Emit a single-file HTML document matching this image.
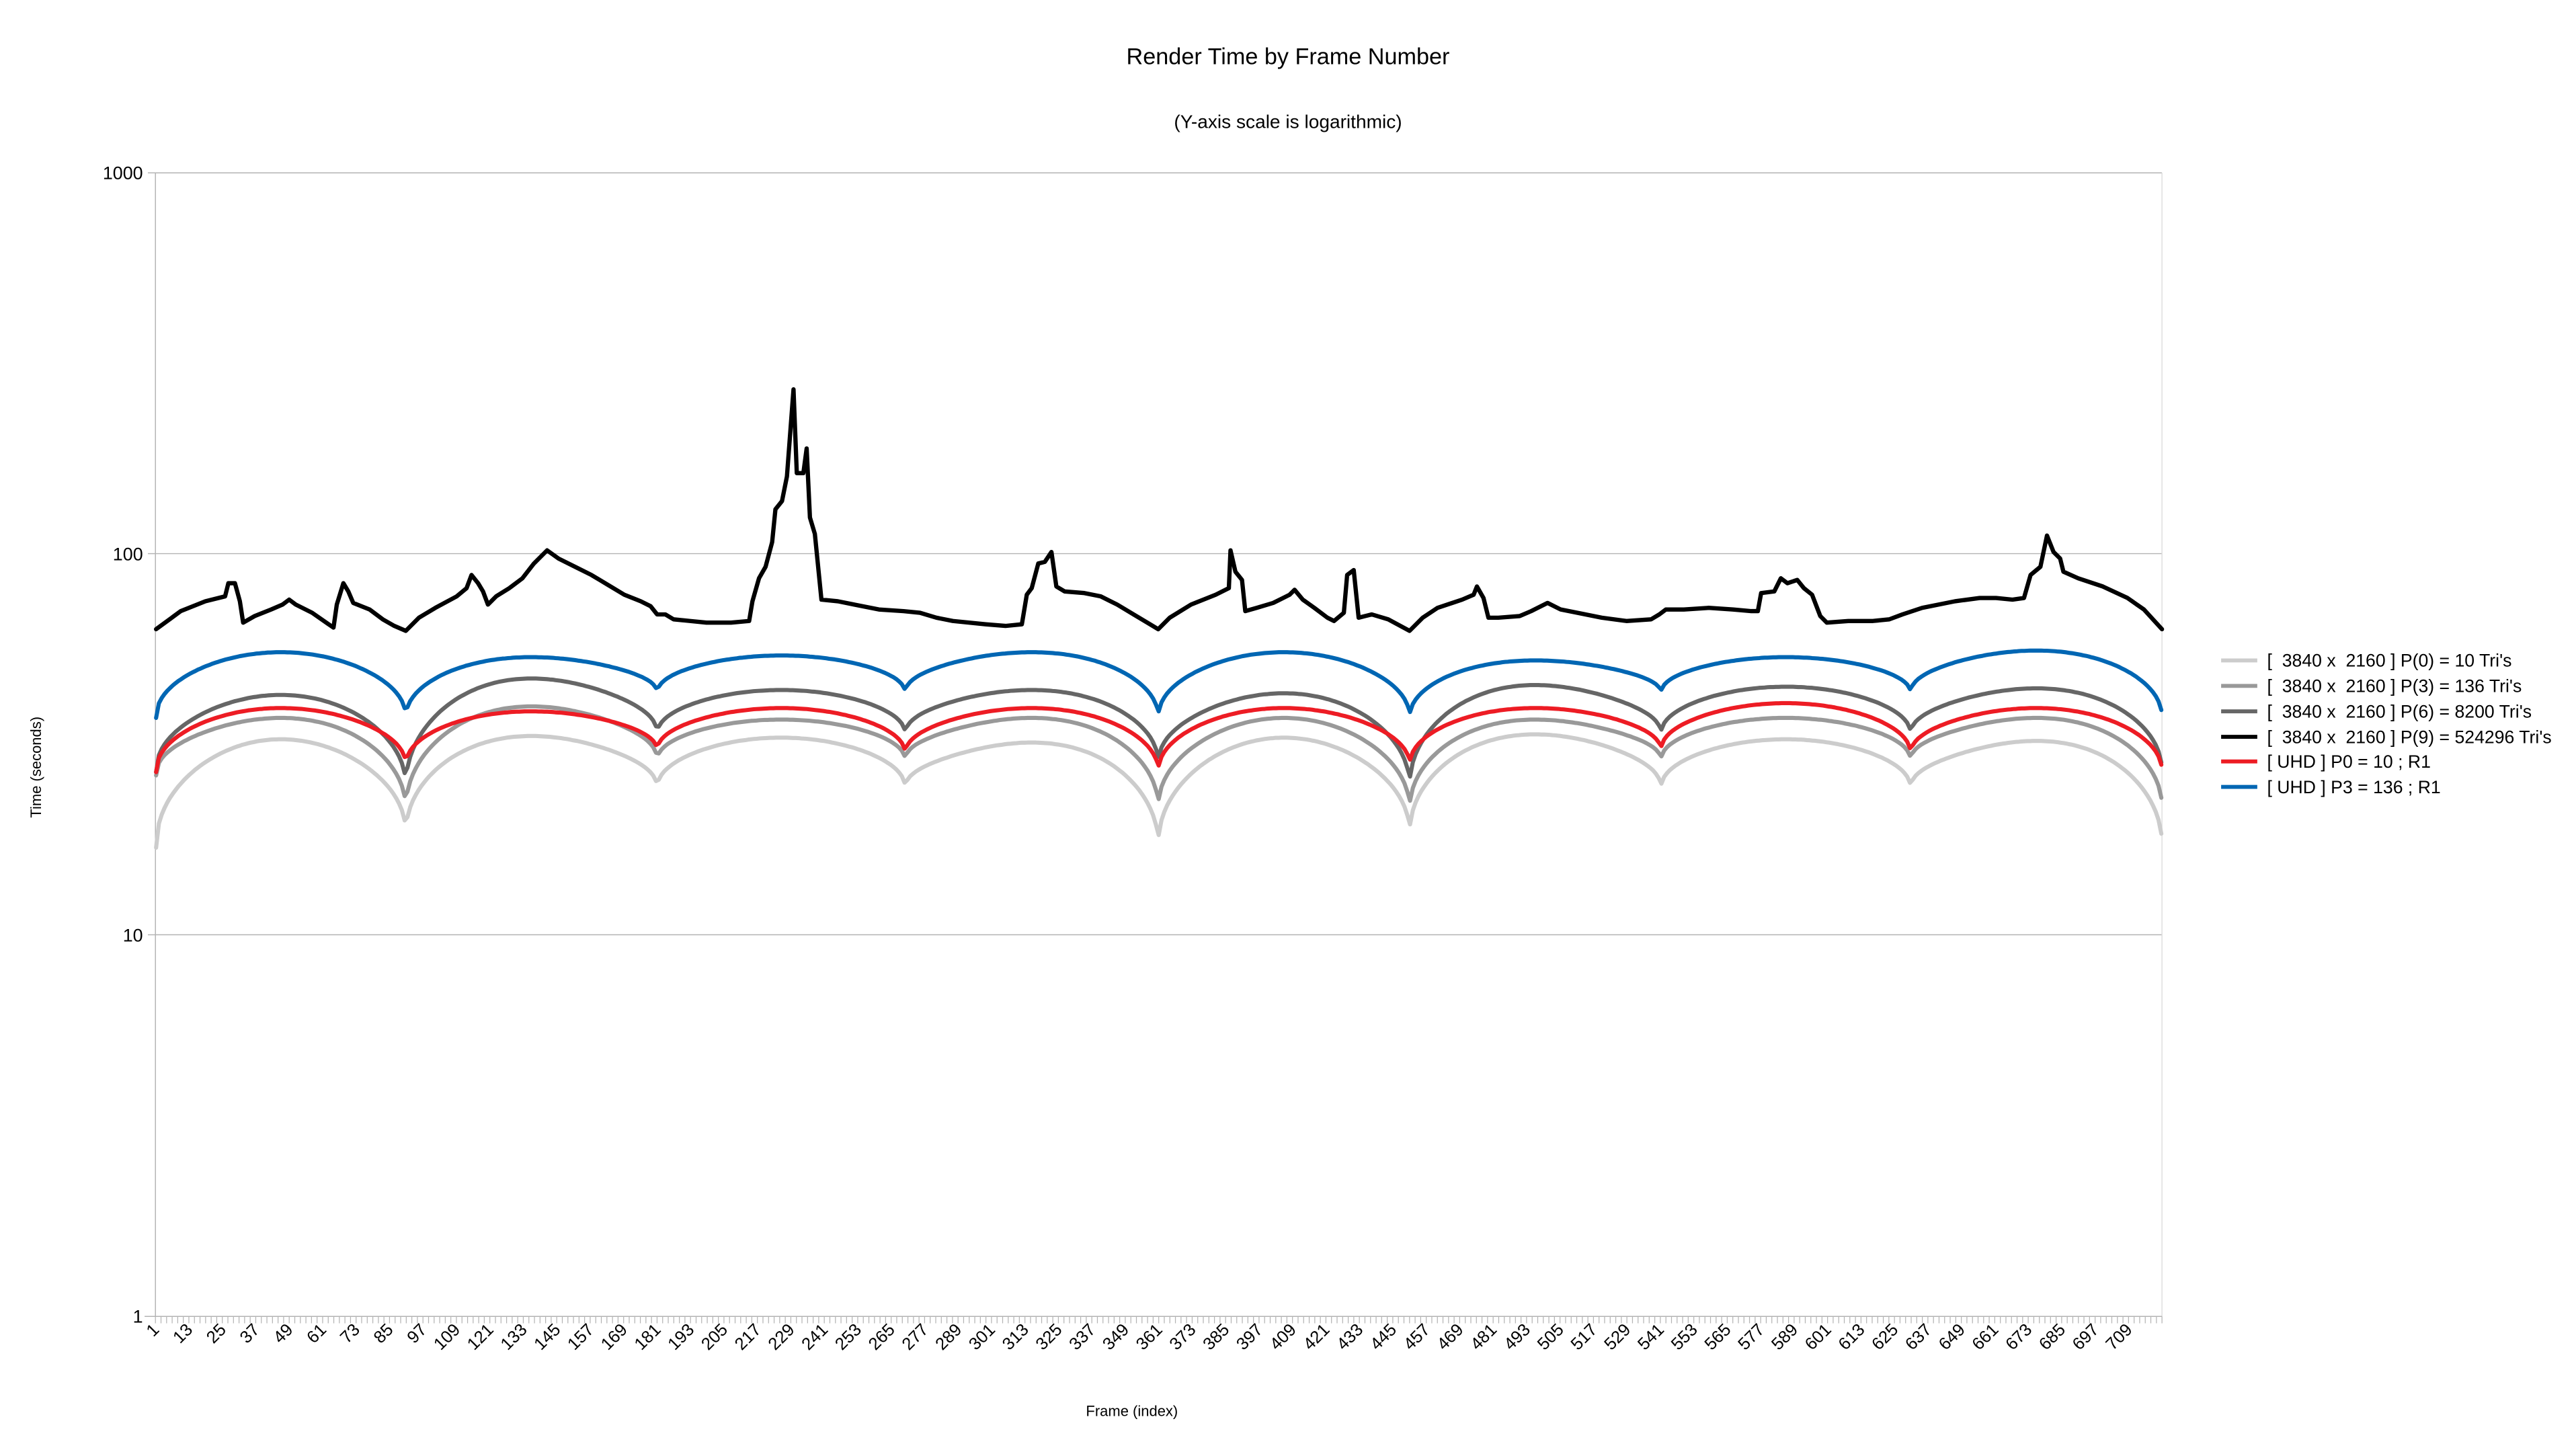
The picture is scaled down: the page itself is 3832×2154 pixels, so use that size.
<!DOCTYPE html>
<html><head><meta charset="utf-8"><style>
html,body{margin:0;padding:0;background:#fff;}
svg{display:block;}
text{font-family:"Liberation Sans",sans-serif;fill:#000;}
</style></head><body>
<svg id="c" width="3832" height="2154" viewBox="0 0 1568 881.4" xmlns="http://www.w3.org/2000/svg">
<rect x="0" y="0" width="1568" height="881.4" fill="#fff"/>
<text x="784" y="39" font-size="14" text-anchor="middle">Render Time by Frame Number</text>
<text x="784" y="78" font-size="11.5" text-anchor="middle">(Y-axis scale is logarithmic)</text>
<g stroke="#b3b3b3" stroke-width="0.6" fill="none">
<line x1="94.6" y1="105.2" x2="1316" y2="105.2"/>
<line x1="94.6" y1="337" x2="1316" y2="337"/>
<line x1="94.6" y1="569" x2="1316" y2="569"/>
<line x1="94.6" y1="105.2" x2="94.6" y2="801.3"/>
<line x1="1316" y1="105.2" x2="1316" y2="801.3" stroke="#ddd"/>
<line x1="88" y1="801.3" x2="1316" y2="801.3"/>
<line x1="90" y1="105.2" x2="94.6" y2="105.2"/>
<line x1="90" y1="337" x2="94.6" y2="337"/>
<line x1="90" y1="569" x2="94.6" y2="569"/>
</g>
<g font-size="11" text-anchor="end">
<text x="87" y="109">1000</text>
<text x="87" y="341">100</text>
<text x="87" y="573">10</text>
<text x="87" y="805">1</text>
</g>
<g id="ticks" stroke="#b3b3b3" stroke-width="0.5"></g>
<g id="xl" font-size="10.5" text-anchor="end"></g>
<g id="series" fill="none" stroke-linejoin="round" stroke-linecap="round"></g>
<text transform="translate(25,467) rotate(-90)" font-size="9" text-anchor="middle">Time (seconds)</text>
<text x="689" y="862" font-size="9" text-anchor="middle">Frame (index)</text>
<g font-size="10.9">
<line x1="1352" y1="402" x2="1374" y2="402" stroke="#cccccc" stroke-width="2.4"/>
<text x="1380" y="405.8" xml:space="preserve">[  3840 x  2160 ] P(0) = 10 Tri's</text>
<line x1="1352" y1="417.5" x2="1374" y2="417.5" stroke="#999999" stroke-width="2.4"/>
<text x="1380" y="421.3" xml:space="preserve">[  3840 x  2160 ] P(3) = 136 Tri's</text>
<line x1="1352" y1="433" x2="1374" y2="433" stroke="#666666" stroke-width="2.4"/>
<text x="1380" y="436.8" xml:space="preserve">[  3840 x  2160 ] P(6) = 8200 Tri's</text>
<line x1="1352" y1="448.5" x2="1374" y2="448.5" stroke="#000000" stroke-width="2.4"/>
<text x="1380" y="452.3" xml:space="preserve">[  3840 x  2160 ] P(9) = 524296 Tri's</text>
<line x1="1352" y1="463.5" x2="1374" y2="463.5" stroke="#ed1c24" stroke-width="2.4"/>
<text x="1380" y="467.3">[ UHD ] P0 = 10 ; R1</text>
<line x1="1352" y1="479" x2="1374" y2="479" stroke="#0066b3" stroke-width="2.4"/>
<text x="1380" y="482.8">[ UHD ] P3 = 136 ; R1</text>
</g>
</svg>
<script>
(function(){
var L=94.6,R=1316,N=720,st=(R-L)/N;
var tk=document.getElementById('ticks'),xl=document.getElementById('xl');
var s='';
for(var i=0;i<=N;i+=2){var x=L+i*st;s+='<line x1="'+x.toFixed(2)+'" y1="801.3" x2="'+x.toFixed(2)+'" y2="805.5"/>';}
tk.innerHTML=s;
s='';
for(var f=1;f<=709;f+=12){var x=L+(f-0.5)*st+2;s+='<text transform="translate('+x.toFixed(2)+',810) rotate(-45)">'+f+'</text>';}
xl.innerHTML=s;
var B=[95,247,400,551,705,858,1011,1163,1316];
function model(d,p){
  var pts=[];
  for(var x=95;x<=1316;x+=1.7){
    var k=0;while(k<7&&x>B[k+1])k++;
    var t=(x-B[k])/(B[k+1]-B[k]);
    var base=d[k]*(1-t)+d[k+1]*t;
    var sh=Math.pow(Math.sin(Math.PI*t),0.45);
    var y=base-(base-p[k])*sh;
    pts.push(x.toFixed(1)+','+y.toFixed(1));
  }
  return pts.join(' ');
}
var ser=[
 ['#cccccc',2.5,[516,508,480,480,515,508,480,480,515],[450,448,449,452,449,447,450,451]],
 ['#999999',2.5,[472,493,463,463,492,493,463,463,492],[437,430,438,437,437,438,437,437]],
 ['#666666',2.5,[470,479,447,447,465,479,447,447,470],[423,413,420,420,422,417,418,419]],
 ['#ed1c24',2.5,[470,466,457,459,470,466,457,459,470],[431,433,431,431,431,431,428,431]],
 ['#0066b3',2.5,[437,437,422,422,437,437,422,422,437],[397,400,399,397,397,402,400,396]]
];
var g=document.getElementById('series');s='';
for(var i=0;i<ser.length;i++){s+='<polyline stroke="'+ser[i][0]+'" stroke-width="'+ser[i][1]+'" points="'+model(ser[i][2],ser[i][3])+'"/>';}
var bk=[95,383,110,372,125,366,137,363,139,355,143,355,146,366,148,379,155,375,165,371,172,368,176,365,180,368,190,373,200,380,203,382,205,368,209,355,212,360,215,367,225,371,233,377,240,381,247,384,255,376,265,370,278,363,284,358,287,350,291,355,294,360,297,368,302,363,310,358,318,352,325,343,333,335,340,340,350,345,360,350,370,356,380,362,390,366,396,369,400,374,405,374,410,377,420,378,430,379,445,379,456,378,458,366,462,352,466,345,470,330,472,310,476,305,479,290,483,237,485,288,489,288,491,273,493,315,496,325,500,365,510,366,520,368,535,371,550,372,560,373,570,376,580,378,600,380,612,381,622,380,625,362,628,358,632,343,636,342,640,336,643,357,648,360,660,361,670,363,680,368,690,374,700,380,705,383,712,376,725,368,740,362,748,358,749,335,752,348,756,353,758,372,765,370,775,367,785,362,788,359,793,365,800,370,808,376,812,378,818,373,820,350,824,347,827,376,835,374,845,377,858,384,866,376,875,370,890,365,897,362,899,357,903,364,906,376,912,376,925,375,932,372,942,367,950,371,960,373,975,376,990,378,1005,377,1010,374,1014,371,1025,371,1040,370,1055,371,1066,372,1070,372,1072,361,1080,360,1084,352,1088,355,1094,353,1098,358,1103,362,1108,375,1112,379,1125,378,1140,378,1150,377,1158,374,1170,370,1190,366,1205,364,1215,364,1225,365,1232,364,1236,350,1242,345,1246,326,1250,336,1254,340,1256,348,1265,352,1280,357,1295,364,1305,371,1316,383];
var bp=[];for(var j=0;j<bk.length;j+=2)bp.push(bk[j]+','+bk[j+1]);
s+='<polyline stroke="#000" stroke-width="2.6" points="'+bp.join(' ')+'"/>';
g.innerHTML=s;
})();
</script>
</body></html>
